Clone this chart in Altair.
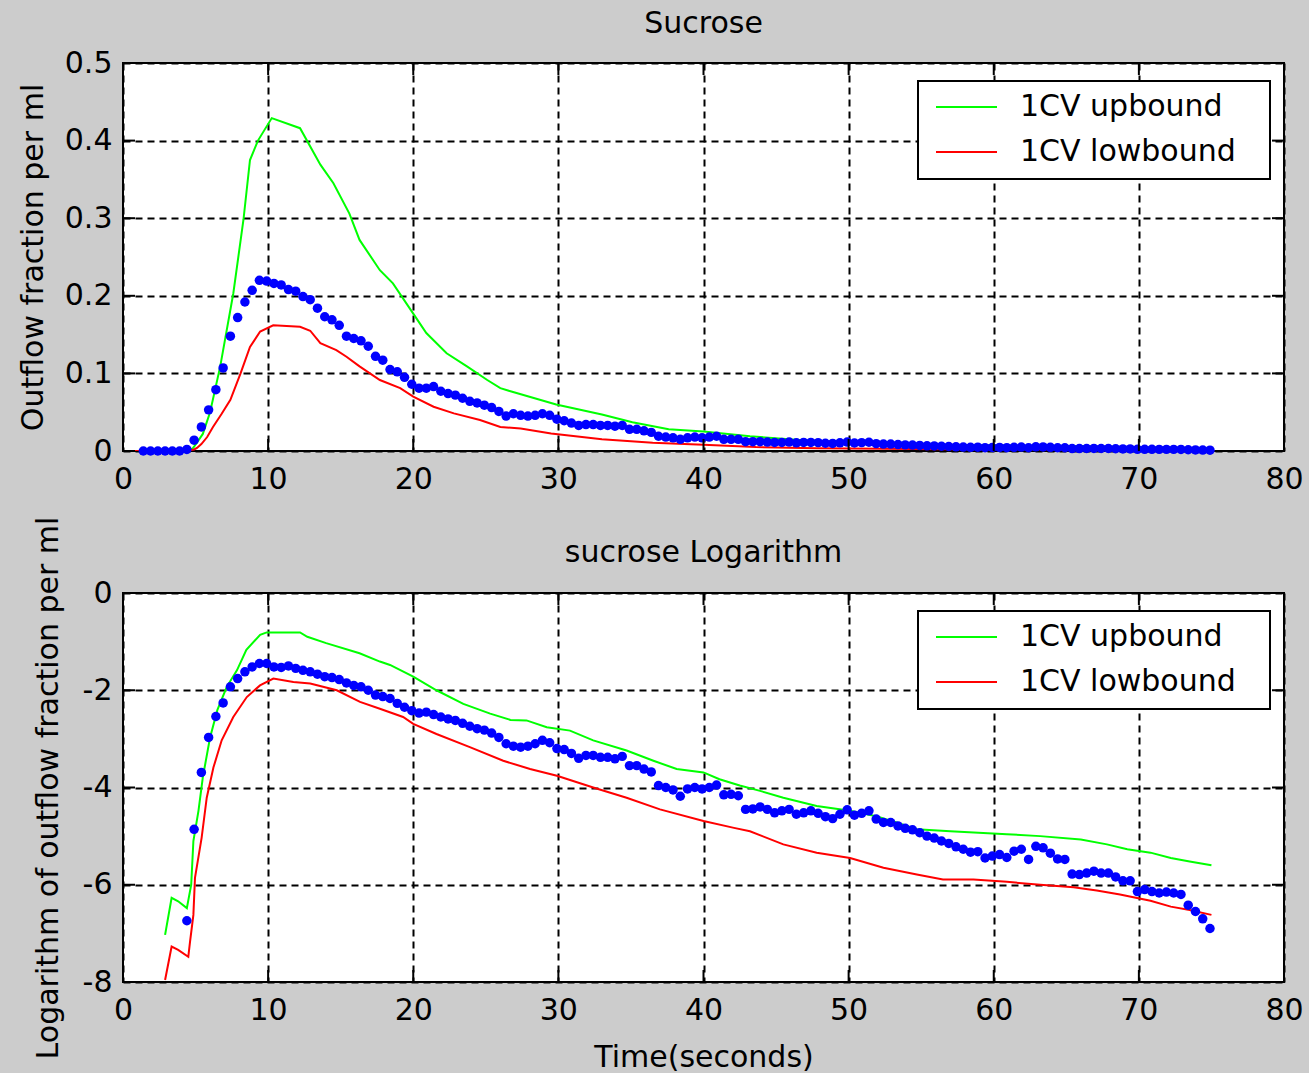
import altair as alt
import pandas as pd

# ---------------- data ----------------
# sampling times of the measured (blue) series, seconds
blue_t = [
    1.4, 1.9, 2.4, 2.9, 3.4, 3.9, 4.4, 4.9, 5.4, 5.9,
    6.4, 6.9, 7.4, 7.9, 8.4, 8.9, 9.4, 9.9, 10.4, 10.9,
    11.4, 11.9, 12.4, 12.9, 13.4, 13.9, 14.4, 14.9, 15.4, 15.9,
    16.4, 16.9, 17.4, 17.9, 18.4, 18.9, 19.4, 19.9, 20.4, 20.9,
    21.4, 21.9, 22.4, 22.9, 23.4, 23.9, 24.4, 24.9, 25.4, 25.9,
    26.4, 26.9, 27.4, 27.9, 28.4, 28.9, 29.4, 29.9, 30.4, 30.9,
    31.4, 31.9, 32.4, 32.9, 33.4, 33.9, 34.4, 34.9, 35.4, 35.9,
    36.4, 36.9, 37.4, 37.9, 38.4, 38.9, 39.4, 39.9, 40.4, 40.9,
    41.4, 41.9, 42.4, 42.9, 43.4, 43.9, 44.4, 44.9, 45.4, 45.9,
    46.4, 46.9, 47.4, 47.9, 48.4, 48.9, 49.4, 49.9, 50.4, 50.9,
    51.4, 51.9, 52.4, 52.9, 53.4, 53.9, 54.4, 54.9, 55.4, 55.9,
    56.4, 56.9, 57.4, 57.9, 58.4, 58.9, 59.4, 59.9, 60.4, 60.9,
    61.4, 61.9, 62.4, 62.9, 63.4, 63.9, 64.4, 64.9, 65.4, 65.9,
    66.4, 66.9, 67.4, 67.9, 68.4, 68.9, 69.4, 69.9, 70.4, 70.9,
    71.4, 71.9, 72.4, 72.9, 73.4, 73.9, 74.4, 74.9,
]
# outflow fraction per ml (top panel)
blue_frac = [
    0, 0, 0, 0, 0, 0, 0.002, 0.014, 0.031, 0.053,
    0.079, 0.107, 0.148, 0.172, 0.192, 0.207, 0.220, 0.219, 0.216, 0.214,
    0.208, 0.206, 0.199, 0.195, 0.184, 0.173, 0.169, 0.162, 0.148, 0.145,
    0.142, 0.135, 0.122, 0.117, 0.105, 0.102, 0.095, 0.086, 0.081, 0.081,
    0.083, 0.077, 0.074, 0.072, 0.068, 0.064, 0.062, 0.059, 0.056, 0.051,
    0.045, 0.048, 0.046, 0.045, 0.046, 0.048, 0.046, 0.041, 0.039, 0.036,
    0.033, 0.034, 0.034, 0.033, 0.033, 0.032, 0.033, 0.028, 0.028, 0.026,
    0.024, 0.019, 0.018, 0.017, 0.015, 0.017, 0.018, 0.017, 0.018, 0.019,
    0.015, 0.015, 0.015, 0.012, 0.012, 0.012, 0.0115, 0.011, 0.011, 0.0115,
    0.0105, 0.011, 0.011, 0.0108, 0.010, 0.0097, 0.0105, 0.0115, 0.0103, 0.0108,
    0.0113, 0.0095, 0.0089, 0.0089, 0.0083, 0.0079, 0.0077, 0.0072, 0.0067, 0.0065,
    0.0061, 0.0058, 0.0054, 0.0051, 0.0048, 0.0049, 0.0043, 0.0045, 0.0046, 0.0043,
    0.0047, 0.0051, 0.0042, 0.0054, 0.0053, 0.0047, 0.0042, 0.0042, 0.0031, 0.0031,
    0.0032, 0.0033, 0.0032, 0.0032, 0.0029, 0.0027, 0.0027, 0.0022, 0.0022, 0.0022,
    0.0021, 0.0021, 0.0021, 0.0020, 0.0016, 0.0014, 0.0012, 0.0010,
]
# logarithm of outflow fraction (bottom panel), for blue_t[6:] (t >= 4.4 s)
blue_log = [
    -6.74, -4.86, -3.69, -2.97, -2.54, -2.26, -1.93, -1.76, -1.62, -1.52,
    -1.45, -1.45, -1.52, -1.53, -1.50, -1.55, -1.59, -1.62, -1.67, -1.72,
    -1.74, -1.78, -1.85, -1.90, -1.93, -2.00, -2.10, -2.13, -2.17, -2.27,
    -2.35, -2.42, -2.47, -2.45, -2.50, -2.55, -2.59, -2.62, -2.68, -2.74,
    -2.79, -2.82, -2.88, -2.97, -3.10, -3.15, -3.17, -3.15, -3.10, -3.03,
    -3.08, -3.20, -3.22, -3.30, -3.40, -3.34, -3.34, -3.38, -3.38, -3.41,
    -3.36, -3.55, -3.55, -3.62, -3.68, -3.96, -4.00, -4.05, -4.18, -4.03,
    -4.00, -4.03, -4.00, -3.95, -4.15, -4.14, -4.17, -4.45, -4.44, -4.40,
    -4.45, -4.52, -4.48, -4.45, -4.55, -4.52, -4.48, -4.53, -4.60, -4.64,
    -4.55, -4.46, -4.57, -4.53, -4.48, -4.65, -4.72, -4.72, -4.79, -4.84,
    -4.87, -4.93, -5.00, -5.04, -5.10, -5.15, -5.22, -5.27, -5.33, -5.32,
    -5.45, -5.41, -5.38, -5.44, -5.31, -5.27, -5.48, -5.21, -5.24, -5.35,
    -5.47, -5.48, -5.78, -5.79, -5.76, -5.72, -5.76, -5.76, -5.84, -5.92,
    -5.92, -6.14, -6.10, -6.14, -6.17, -6.15, -6.17, -6.20, -6.42, -6.55,
    -6.70, -6.90,
]

# 1CV upbound (green) and lowbound (red), top panel
green_t = [0, 2.4, 2.9, 3.4, 3.9, 4.4, 4.8, 5.1, 5.5, 6.0,
           6.7, 7.6, 8.3, 8.75, 9.3, 10.25, 12.2, 13.6, 14.5, 15.6,
           16.3, 17.7, 18.6, 20.0, 20.9, 22.3, 23.7, 25.1, 26.0, 26.7,
           29.85, 33.0, 35.1, 37.6, 40.0, 43.2, 47.8, 50.1, 53.3, 56.3,
           60.9, 66.0, 69.2, 72.2, 75.0]
green_frac = [0, 0, 0.001, 0.002, 0.002, 0.0015, 0.003, 0.011, 0.022, 0.05,
              0.109, 0.203, 0.298, 0.375, 0.40, 0.429, 0.416, 0.369, 0.345, 0.306,
              0.272, 0.233, 0.216, 0.177, 0.152, 0.126, 0.109, 0.0915, 0.081, 0.077,
              0.060, 0.047, 0.037, 0.028, 0.025, 0.019, 0.0125, 0.0113, 0.0089, 0.0077,
              0.0070, 0.0063, 0.0051, 0.0043, 0.0037]
red_t = [0, 2.4, 2.9, 3.4, 3.9, 4.5, 4.9, 5.1, 5.4, 5.8,
         6.2, 6.8, 7.4, 8.1, 8.75, 9.45, 10.35, 12.2, 12.9, 13.6,
         14.7, 15.4, 16.3, 17.7, 19.1, 20.0, 21.4, 22.8, 24.6, 26.0,
         27.4, 29.5, 33.0, 36.5, 40.0, 43.6, 47.8, 52.4, 56.5, 60.9,
         65.5, 70.0, 75.0]
red_frac = [0, 0, 0.0003, 0.0007, 0.0007, 0.0006, 0.002, 0.004, 0.009, 0.018,
            0.031, 0.048, 0.066, 0.10, 0.134, 0.154, 0.162, 0.160, 0.155, 0.139,
            0.13, 0.1215, 0.109, 0.0915, 0.081, 0.07, 0.057, 0.0485, 0.04, 0.031,
            0.029, 0.0225, 0.015, 0.0106, 0.008, 0.005, 0.0035, 0.0028, 0.0023, 0.0022,
            0.002, 0.0017, 0.0013]

# bounds in the logarithm panel
green_log_t = [2.9, 3.35, 3.8, 4.4, 4.7, 4.85, 5.2, 5.5, 6.0, 6.5,
               7.15, 7.85, 8.5, 9.45, 9.9, 12.2, 12.7, 14.0, 16.3, 17.7,
               18.4, 20.0, 21.6, 23.45, 25.3, 26.7, 27.8, 29.2, 30.8, 32.4,
               34.7, 36.55, 38.15, 40.0, 41.1, 42.5, 43.9, 45.5, 47.8, 50.1,
               51.9, 53.3, 54.7, 57.0, 60.9, 63.2, 66.0, 67.8, 69.2, 70.8,
               72.2, 73.5, 75.0]
green_log = [-7.03, -6.27, -6.34, -6.48, -6.0, -5.10, -4.48, -3.79, -2.97, -2.41,
             -1.93, -1.59, -1.17, -0.86, -0.81, -0.81, -0.90, -1.03, -1.24, -1.41,
             -1.48, -1.72, -2.0, -2.28, -2.48, -2.61, -2.62, -2.76, -2.83, -3.03,
             -3.24, -3.45, -3.62, -3.69, -3.83, -3.96, -4.07, -4.21, -4.38, -4.48,
             -4.59, -4.72, -4.86, -4.90, -4.96, -5.0, -5.07, -5.17, -5.27, -5.34,
             -5.45, -5.52, -5.60]
red_log_t = [2.9, 3.35, 3.8, 4.5, 4.62, 4.85, 4.96, 5.42, 5.77, 6.23,
             6.8, 7.6, 8.53, 9.44, 10.36, 11.74, 12.9, 14.73, 16.33, 17.7,
             19.3, 20.0, 21.6, 23.9, 26.2, 28.05, 29.9, 32.4, 34.7, 37.0,
             40.0, 42.1, 43.2, 45.5, 47.8, 50.1, 52.4, 54.7, 56.5, 58.6,
             60.9, 63.2, 65.5, 67.1, 68.7, 70.8, 72.2, 73.5, 75.0]
red_log = [-7.96, -7.27, -7.34, -7.48, -7.17, -6.62, -5.86, -5.03, -4.21, -3.59,
           -3.03, -2.55, -2.14, -1.90, -1.76, -1.83, -1.86, -2.0, -2.24, -2.38,
           -2.55, -2.69, -2.9, -3.17, -3.45, -3.62, -3.76, -4.0, -4.21, -4.45,
           -4.69, -4.83, -4.90, -5.17, -5.34, -5.45, -5.65, -5.79, -5.89, -5.89,
           -5.94, -6.0, -6.05, -6.12, -6.2, -6.33, -6.45, -6.52, -6.62]

series_names = ["1CV upbound", "1CV lowbound"]
x_ticks = [0, 10, 20, 30, 40, 50, 60, 70, 80]
y_ticks_top = [0, 0.1, 0.2, 0.3, 0.4, 0.5]
y_ticks_log = [-8, -6, -4, -2, 0]
top_title = "Sucrose"
bottom_title = "sucrose Logarithm"
top_ylabel = "Outflow fraction per ml"
bottom_ylabel = "Logarithm of outflow fraction per ml"
xlabel = "Time(seconds)"

# ---------------- style ----------------
FONT = "DejaVu Sans"
FS = 30
W = 1161
H_TOP = 388
H_BOT = 389
GREEN = "#00ff00"
RED = "#ff0000"
BLUE = "#0000ff"
BG = "#cccccc"
TICK_LEN = 12


def panel(up_t, up_v, low_t, low_v, dot_t, dot_v, ydomain, yticks, ylabel_expr,
          ytitle, title, h, xtitle, ytitle_pad, title_as_mark):
    xs = alt.Scale(domain=[0, 80], nice=False, zero=False)
    ys = alt.Scale(domain=ydomain, nice=False, zero=False)

    lines_df = pd.concat([
        pd.DataFrame({"t": up_t, "v": up_v, "series": series_names[0]}),
        pd.DataFrame({"t": low_t, "v": low_v, "series": series_names[1]}),
    ])
    dots_df = pd.DataFrame({"t": dot_t, "v": dot_v})

    xaxis_kw = dict(values=x_ticks, labelFlush=False, labelOverlap=False,
                    labelPadding=13, titlePadding=17)
    xaxis_kw["title"] = xtitle if xtitle else None
    xaxis = alt.Axis(**xaxis_kw)
    yaxis = alt.Axis(values=yticks, labelExpr=ylabel_expr, title=ytitle,
                     labelFlush=False, labelOverlap=False, labelPadding=11,
                     titlePadding=ytitle_pad)

    lines = alt.Chart(lines_df).mark_line(strokeWidth=2, clip=True).encode(
        x=alt.X("t:Q", scale=xs, axis=xaxis),
        y=alt.Y("v:Q", scale=ys, axis=yaxis),
        color=alt.Color("series:N", scale=alt.Scale(domain=series_names, range=[GREEN, RED]),
                        legend=None),
        detail="series:N",
    )
    dots = alt.Chart(dots_df).mark_circle(color=BLUE, size=90, opacity=1).encode(
        x=alt.X("t:Q", scale=xs), y=alt.Y("v:Q", scale=ys)
    )

    # MATLAB-style inward ticks on all four sides
    xt = pd.DataFrame({"t": x_ticks})
    yt = pd.DataFrame({"v": yticks})
    tick_style = dict(color="black", strokeWidth=2)
    xb = alt.Chart(xt).mark_rule(**tick_style).encode(
        x=alt.X("t:Q", scale=xs), y=alt.value(h), y2=alt.value(h - TICK_LEN))
    xtop = alt.Chart(xt).mark_rule(**tick_style).encode(
        x=alt.X("t:Q", scale=xs), y=alt.value(0), y2=alt.value(TICK_LEN))
    yl = alt.Chart(yt).mark_rule(**tick_style).encode(
        y=alt.Y("v:Q", scale=ys), x=alt.value(0), x2=alt.value(TICK_LEN))
    yr = alt.Chart(yt).mark_rule(**tick_style).encode(
        y=alt.Y("v:Q", scale=ys), x=alt.value(W - TICK_LEN), x2=alt.value(W))

    # legend box (inside, top right)
    one = pd.DataFrame({"k": [0]})
    box = alt.Chart(one).mark_rect(fill="white", stroke="black", strokeWidth=2).encode(
        x=alt.value(795), x2=alt.value(1147), y=alt.value(18), y2=alt.value(116))
    g_line = alt.Chart(one).mark_rule(color=GREEN, strokeWidth=2).encode(
        x=alt.value(813), x2=alt.value(874), y=alt.value(44))
    r_line = alt.Chart(one).mark_rule(color=RED, strokeWidth=2).encode(
        x=alt.value(813), x2=alt.value(874), y=alt.value(89))
    txt = dict(align="left", baseline="middle", font=FONT, fontSize=FS, color="black")
    g_txt = alt.Chart(one).mark_text(text=series_names[0], **txt).encode(
        x=alt.value(897), y=alt.value(44))
    r_txt = alt.Chart(one).mark_text(text=series_names[1], **txt).encode(
        x=alt.value(897), y=alt.value(89))

    layers = [lines, dots, xb, xtop, yl, yr, box, g_line, r_line, g_txt, r_txt]
    props = dict(width=W, height=h)
    if title_as_mark:
        # panel title placed just above the plot frame
        ttl = alt.Chart(one).mark_text(text=title, align="center", baseline="middle",
                                       font=FONT, fontSize=FS, color="black").encode(
            x=alt.value(W / 2), y=alt.value(-40))
        layers.append(ttl)
    else:
        props["title"] = alt.TitleParams(text=title, font=FONT, fontSize=FS,
                                         fontWeight="normal", color="black", offset=9)
    return alt.layer(*layers).properties(**props)


top = panel(green_t, green_frac, red_t, red_frac, blue_t, blue_frac,
            [0, 0.5], y_ticks_top,
            "datum.value == 0 ? '0' : format(datum.value, '.1f')",
            top_ylabel, top_title, H_TOP, None, 16, False)
bottom = panel(green_log_t, green_log, red_log_t, red_log, blue_t[6:], blue_log,
               [-8, 0], y_ticks_log, "'' + datum.value",
               bottom_ylabel, bottom_title, H_BOT, xlabel, 19, True)

chart = alt.vconcat(top, bottom, spacing=142, bounds="flush").properties(
    padding={"left": 17, "top": 8, "right": 4, "bottom": 0},
    background=BG,
).configure_view(
    fill="white", stroke="black", strokeWidth=2
).configure_axis(
    grid=True, gridColor="black", gridDash=[7, 5], gridOpacity=1, gridWidth=2,
    domain=False, ticks=False,
    labelFont=FONT, labelFontSize=FS, labelColor="black",
    titleFont=FONT, titleFontSize=FS, titleFontWeight="normal", titleColor="black",
)

chart.save("out.html", embed_options={"renderer": "svg", "actions": False})
